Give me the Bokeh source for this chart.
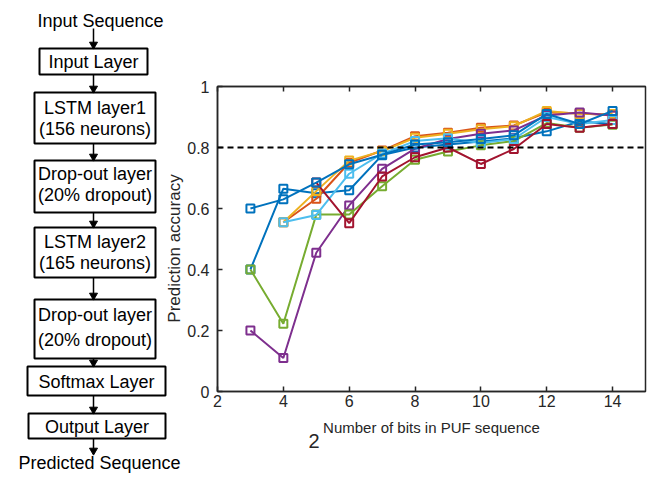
import math
from bokeh.plotting import figure
from bokeh.layouts import row
from bokeh.models import (Range1d, FixedTicker, LinearAxis, Span, Title,
                          CustomJSTickFormatter)
from bokeh.core.properties import value
from bokeh.embed import file_html
from bokeh.resources import INLINE

# ---------------- data ----------------
bits = [3, 4, 5, 6, 7, 8, 9, 10, 11, 12, 13, 14]
blue_b = [0.40, 0.665, 0.65, 0.66, 0.775, 0.80, 0.81, 0.82, 0.83, 0.853, 0.885, 0.877]
orange = [None, 0.555, 0.632, 0.75, 0.79, 0.837, 0.848, 0.865, 0.872, 0.915, 0.912, 0.905]
yellow = [None, 0.555, 0.657, 0.757, 0.788, 0.832, 0.845, 0.86, 0.87, 0.92, 0.91, 0.91]
purple = [0.20, 0.11, 0.455, 0.61, 0.73, 0.796, 0.828, 0.845, 0.856, 0.905, 0.915, 0.905]
green = [0.40, 0.222, 0.58, 0.58, 0.673, 0.76, 0.787, 0.807, 0.821, 0.88, 0.865, 0.875]
light_blue = [None, 0.555, 0.579, 0.714, 0.78, 0.821, 0.83, 0.815, 0.828, 0.90, 0.877, 0.89]
red = [None, None, 0.685, 0.552, 0.705, 0.768, 0.80, 0.746, 0.795, 0.877, 0.865, 0.877]
blue_a = [0.60, 0.63, 0.685, 0.745, 0.776, 0.81, 0.817, 0.828, 0.84, 0.91, 0.877, 0.92]

series = [blue_b, orange, yellow, purple, green, light_blue, red, blue_a]
colors = ["#0072BD", "#D95319", "#EDB120", "#7E2F8E", "#77AC30", "#4DBEEE", "#A2142F", "#0072BD"]

threshold = 0.8
x_ticks = [2, 4, 6, 8, 10, 12, 14]
y_ticks = [0, 0.2, 0.4, 0.6, 0.8, 1.0]
x_label = "Number of bits in PUF sequence"
y_label = "Prediction accuracy"
stray_label = "2"

flow_top_text = "Input Sequence"
flow_bottom_text = "Predicted Sequence"
box_lines = [["Input Layer"],
             ["LSTM layer1", "(156 neurons)"],
             ["Drop-out layer", "(20% dropout)"],
             ["LSTM layer2", "(165 neurons)"],
             ["Drop-out layer", "(20% dropout)"],
             ["Softmax Layer"],
             ["Output Layer"]]

# ---------------- layout of flowchart (pixels) ----------------
box_left = [39, 34, 34, 34, 34, 27, 28]
box_right = [147, 155, 155, 155, 155, 165, 165]
box_top = [48, 92, 160, 227, 299, 366, 413]
box_bottom = [74, 143, 212, 277, 358, 395, 438]
text_y = [[61], [107, 128], [173, 194], [241, 262], [314, 339], [381], [426]]
arrow_x = 93
arrow_y0 = [28, 74, 143, 212, 277, 358, 395, 438]
arrow_y1 = [48, 92, 160, 227, 299, 366, 413, 454]

FONT = "Liberation Sans"
AX = "#262626"

# ---------------- left figure: flowchart ----------------
LW = 184
f = figure(width=LW, height=481, x_range=Range1d(0, LW), y_range=Range1d(481, 0),
           output_backend="svg", toolbar_location=None, min_border=0,
           x_axis_location=None, y_axis_location=None)
f.grid.visible = False
f.outline_line_color = None
try:
    f.frame_align = False
except Exception:
    pass

f.quad(left=box_left, right=box_right, top=box_top, bottom=box_bottom,
       fill_color="white", line_color="black", line_width=2)

tx, ty, tt = [], [], []
for i, lines in enumerate(box_lines):
    cx = (box_left[i] + box_right[i]) / 2
    for ln, yy in zip(lines, text_y[i]):
        tx.append(cx)
        ty.append(yy)
        tt.append(ln)
tx += [100, 99]
ty += [20, 462]
tt += [flow_top_text, flow_bottom_text]
f.text(x=tx, y=ty, text=tt, text_align="center", text_baseline="middle",
       text_font=value(FONT), text_font_size="18px", text_color="black")

f.segment(x0=[arrow_x] * len(arrow_y0), y0=arrow_y0,
          x1=[arrow_x] * len(arrow_y1), y1=[y - 4 for y in arrow_y1],
          line_color="black", line_width=1.5)
f.scatter(x=[arrow_x] * len(arrow_y1), y=[y - 4 for y in arrow_y1],
          marker="inverted_triangle", size=8, fill_color="black", line_color="black")

f.text(x=[174], y=[248], text=[y_label], angle=math.pi / 2,
       text_align="center", text_baseline="middle",
       text_font=value(FONT), text_font_size="17px", text_color=AX)

# ---------------- right figure: chart ----------------
RW = 650 - LW
p = figure(width=RW, height=481, x_range=Range1d(2, 15), y_range=Range1d(0, 1),
           output_backend="svg", toolbar_location=None,
           min_border_left=217 - LW, min_border_right=5,
           min_border_top=86, min_border_bottom=90)
try:
    p.frame_align = False
except Exception:
    pass
p.grid.visible = False
p.outline_line_color = AX
p.outline_line_width = 1.5

p.xaxis.ticker = FixedTicker(ticks=x_ticks)
p.yaxis.ticker = FixedTicker(ticks=y_ticks)
p.yaxis.formatter = CustomJSTickFormatter(code="return (Math.round(tick*10)/10).toString();")
for ax in [p.xaxis[0], p.yaxis[0]]:
    ax.major_tick_in = 5
    ax.major_tick_out = 0
    ax.minor_tick_line_color = None
    ax.axis_line_color = AX
    ax.axis_line_width = 1.5
    ax.major_tick_line_color = AX
    ax.major_tick_line_width = 1.5
    ax.major_label_text_font = FONT
    ax.major_label_text_font_size = "16px"
    ax.major_label_text_color = AX
p.yaxis.major_label_standoff = 8
p.xaxis.major_label_standoff = 3
p.xaxis.axis_label = x_label
p.xaxis.axis_label_text_font = FONT
p.xaxis.axis_label_text_font_size = "15px"
p.xaxis.axis_label_text_font_style = "normal"
p.xaxis.axis_label_text_color = AX
p.xaxis.axis_label_standoff = 9

top = LinearAxis(ticker=FixedTicker(ticks=x_ticks), major_tick_in=5, major_tick_out=0,
                 minor_tick_line_color=None,
                 formatter=CustomJSTickFormatter(code="return '';"),
                 major_label_standoff=0,
                 axis_line_color=AX, axis_line_width=1.5,
                 major_tick_line_color=AX, major_tick_line_width=1.5)
p.add_layout(top, "above")

p.add_layout(Span(location=threshold, dimension="width", line_color="black",
                  line_dash="6 4", line_width=2))

for ys, c in zip(series, colors):
    xs = [x for x, y in zip(bits, ys) if y is not None]
    yv = [y for y in ys if y is not None]
    p.line(xs, yv, line_color=c, line_width=2)
    p.scatter(xs, yv, marker="square", size=8, fill_color=None,
              line_color=c, line_width=2)

p.add_layout(Title(text=stray_label, align="left", offset=91, standoff=-19,
                   text_font=FONT, text_font_size="20px",
                   text_font_style="normal", text_color=AX), "below")

layout = row(f, p)
open("out.html", "w").write(file_html(layout, INLINE))
